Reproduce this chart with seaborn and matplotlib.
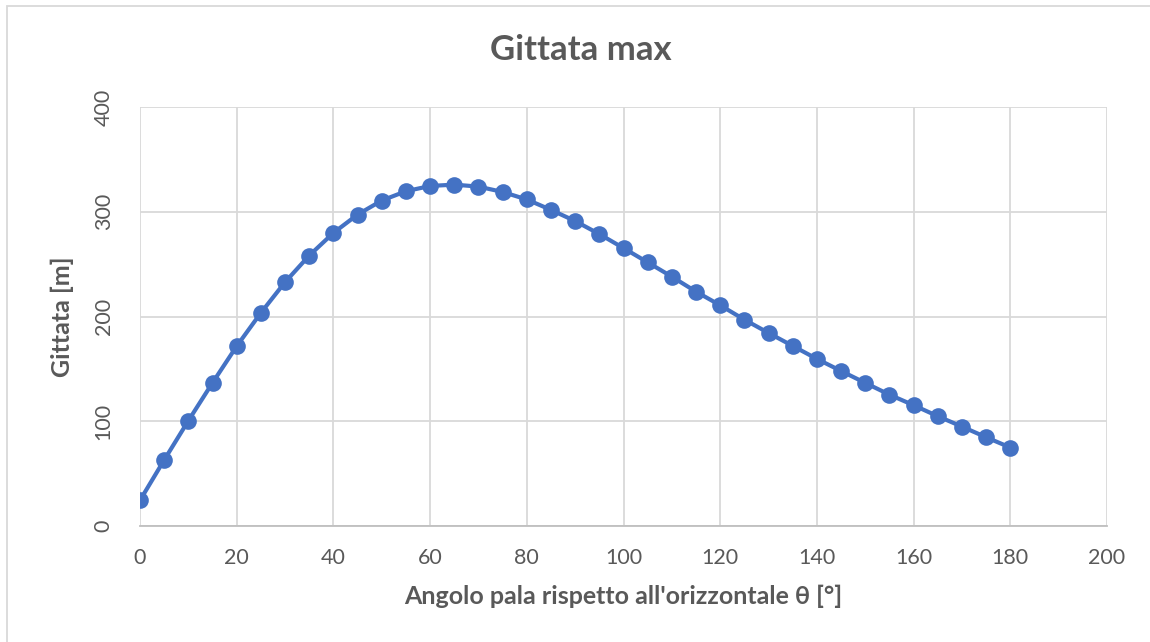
import numpy as np
import pandas as pd
import matplotlib
matplotlib.use("Agg")
import matplotlib.pyplot as plt
import seaborn as sns
from matplotlib.patches import Rectangle

# data
angoli = [0, 5, 10, 15, 20, 25, 30, 35, 40, 45, 50, 55, 60, 65, 70, 75, 80, 85, 90,
          95, 100, 105, 110, 115, 120, 125, 130, 135, 140, 145, 150, 155, 160, 165,
          170, 175, 180]
gittata = [24.5, 63, 100.5, 136.7, 171.7, 203.5, 232.8, 258.2, 279.8, 297.3, 310.7,
           319.6, 324.6, 325.9, 324.0, 318.9, 311.7, 301.8, 291.1, 278.7, 265.3,
           251.7, 238.0, 223.7, 210.7, 197.0, 184.3, 171.9, 159.5, 148.0, 136.6,
           125.4, 115.3, 104.8, 94.9, 84.7, 74.9]
x_ticks = [0, 20, 40, 60, 80, 100, 120, 140, 160, 180, 200]
y_ticks = [0, 100, 200, 300, 400]

df = pd.DataFrame({"angolo": angoli, "gittata": gittata})

sns.set_theme(style="white")
plt.rcParams["font.family"] = ["Lato", "DejaVu Sans"]

TXT = "#595959"
BLU = "#4472C4"

fig = plt.figure(figsize=(11.5, 6.42), dpi=100)
ax = fig.add_axes([140 / 1150, 1 - 526 / 642, (1107 - 140) / 1150, (526 - 107) / 642])

sns.lineplot(data=df, x="angolo", y="gittata", ax=ax, color=BLU, linewidth=3,
             marker="o", markersize=12, markeredgewidth=0, zorder=3)

ax.set_xlim(0, 200)
ax.set_ylim(0, 400)
ax.set_xticks(x_ticks)
ax.set_yticks(y_ticks)
ax.grid(True, color="#d9d9d9", linewidth=1.3)
ax.set_axisbelow(True)

for s in ["top", "right", "left"]:
    ax.spines[s].set_visible(False)
ax.spines["bottom"].set_color("#bfbfbf")
ax.spines["bottom"].set_linewidth(1.3)

ax.tick_params(axis="both", length=0, labelsize=15.5, labelcolor=TXT)
ax.tick_params(axis="x", pad=16)
ax.tick_params(axis="y", pad=19)
for lab in ax.get_yticklabels():
    lab.set_rotation(90)
    lab.set_va("center")

ax.set_xlabel("Angolo pala rispetto all'orizzontale θ [°]", fontsize=18,
              fontweight="bold", color=TXT, labelpad=12)
ax.set_ylabel("Gittata [m]", fontsize=18, fontweight="bold", color=TXT, labelpad=14)

fig.text(581 / 1150, 1 - 50 / 642, "Gittata max", fontsize=25, fontweight="bold",
         color=TXT, ha="center", va="center")

# light border of the chart area (only top and left visible in the crop)
fig.patches.append(Rectangle((7 / 1150, -0.1), 1.2, 1.1 - 6 / 642,
                             transform=fig.transFigure, fill=False,
                             edgecolor="#d9d9d9", linewidth=1.3))

fig.savefig("out.png", dpi=100, facecolor="white")
